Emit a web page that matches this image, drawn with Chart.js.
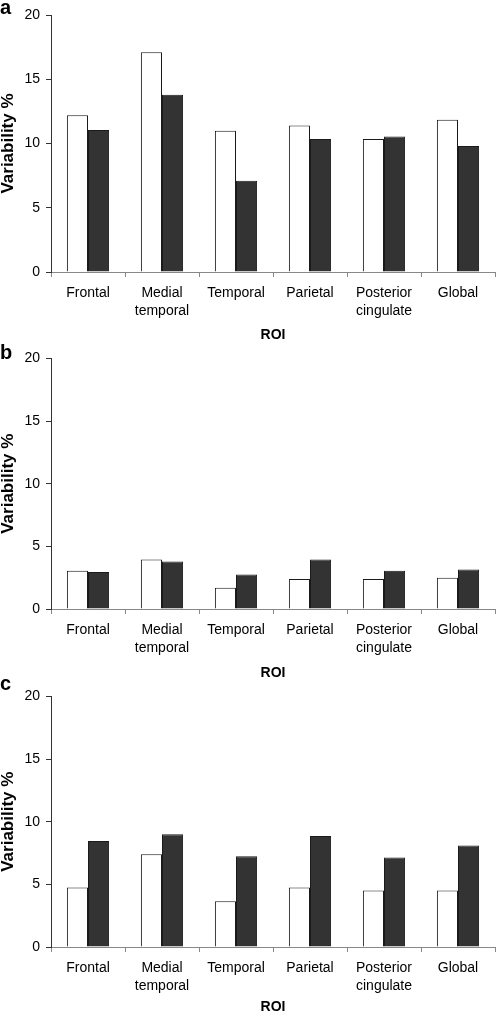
<!DOCTYPE html>
<html>
<head>
<meta charset="utf-8">
<script src="https://cdn.jsdelivr.net/npm/chart.js@4"></script>
<style>
  body { margin: 0; background: #fff; }
  .panel { position: relative; width: 496px; }
  .letter { position: absolute; left: 0; font: bold 20px "Liberation Sans", Arial, sans-serif; color: #000; line-height: 20px; }
</style>
</head>
<body>
<div class="panel" style="height:344px"><div class="letter" style="top:-3px">a</div><canvas id="chartA"></canvas></div>
<div class="panel" style="height:338px"><div class="letter" style="top:-2px">b</div><canvas id="chartB"></canvas></div>
<div class="panel" style="height:334px"><div class="letter" style="top:-9px">c</div><canvas id="chartC"></canvas></div>
<script>
const rois = ["Frontal", ["Medial", "temporal"], "Temporal", "Parietal", ["Posterior", "cingulate"], "Global"];
const yMax = 20;
const yStep = 5;

// panel a
const aOpen = [12.2, 17.1, 11.0, 11.4, 10.35, 11.85];
const aFilled = [11.05, 13.8, 7.1, 10.35, 10.55, 9.8];
// panel b
const bOpen = [3.05, 3.95, 1.7, 2.4, 2.4, 2.5];
const bFilled = [2.95, 3.8, 2.75, 3.95, 3.05, 3.15];
// panel c
const cOpen = [4.75, 7.4, 3.65, 4.75, 4.5, 4.5];
const cFilled = [8.45, 9.0, 7.25, 8.85, 7.15, 8.1];

const fontFamily = '"Liberation Sans", Arial, sans-serif';

function makePanel(id, open, filled, padTop, xHeight) {
  return new Chart(document.getElementById(id), {
    type: "bar",
    data: {
      labels: rois,
      datasets: [
        { data: open, backgroundColor: "#ffffff", borderColor: "#1a1a1a", borderWidth: 1 },
        { data: filled, backgroundColor: "#333333", borderColor: "#1a1a1a", borderWidth: 1 }
      ]
    },
    options: {
      responsive: true,
      maintainAspectRatio: false,
      animation: false,
      layout: { padding: { top: padTop, right: 1, left: 0, bottom: 0 } },
      plugins: { legend: { display: false }, tooltip: { enabled: false } },
      datasets: { bar: { categoryPercentage: 0.57, barPercentage: 1 } },
      scales: {
        x: {
          afterFit: scale => { scale.height = xHeight; },
          grid: { offset: true, drawOnChartArea: false, tickLength: 5, color: "#888", tickColor: "#888" },
          border: { color: "#888", width: 1 },
          ticks: {
            color: "#000",
            padding: 7,
            maxRotation: 0,
            autoSkip: false,
            font: { family: fontFamily, size: 14, lineHeight: 1.3 }
          },
          title: {
            display: true,
            text: "ROI",
            color: "#000",
            padding: 0,
            font: { family: fontFamily, size: 14, weight: "bold", lineHeight: 1.2 }
          }
        },
        y: {
          min: 0,
          max: yMax,
          afterFit: scale => { scale.width = 51; },
          grid: { drawOnChartArea: false, tickLength: 5, color: "#333", tickColor: "#333" },
          border: { color: "#333", width: 1 },
          ticks: {
            stepSize: yStep,
            color: "#000",
            padding: 6,
            font: { family: fontFamily, size: 14 }
          },
          title: {
            display: true,
            text: "Variability %",
            color: "#000",
            padding: 0,
            font: { family: fontFamily, size: 17, weight: "bold", lineHeight: 1 }
          }
        }
      }
    }
  });
}

makePanel("chartA", aOpen, aFilled, 15, 72);
makePanel("chartB", bOpen, bFilled, 11, 73);
makePanel("chartC", cOpen, cFilled, 13, 69);
</script>
</body>
</html>
